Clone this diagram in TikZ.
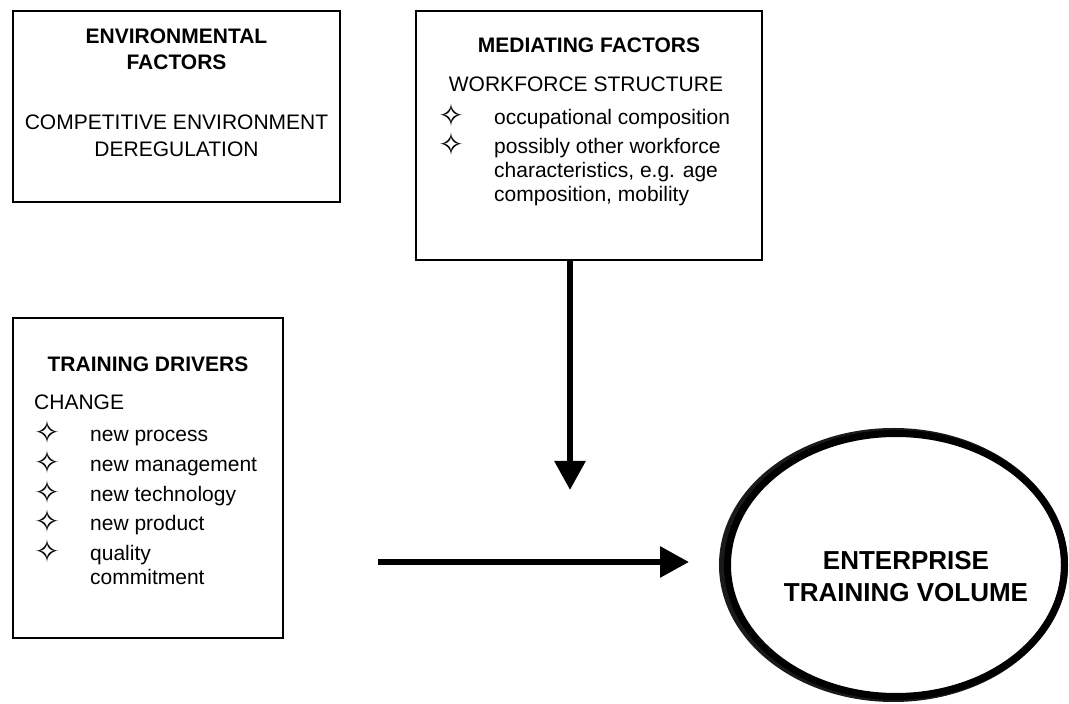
\documentclass[tikz,border=0pt]{standalone}
\usepackage{fontspec}
\setmainfont{Liberation Sans}
\newfontfamily\simbolos{DejaVu Sans}
\usepackage{tikz}
\usetikzlibrary{calc,positioning,arrows.meta,shapes.geometric}
\definecolor{fundo}{HTML}{FFFFFF}
\definecolor{tinta}{HTML}{000000}
\definecolor{sombra}{HTML}{1A1A1A}
\newcommand{\estrela}{\raisebox{-2pt}[0pt][0pt]{\simbolos\fontsize{31}{24}\selectfont\char"2727}}

\begin{document}
\begin{tikzpicture}[x=1pt,y=1pt,
    factor/.style={draw=tinta, line width=1.5pt, fill=fundo},
    hd/.style={inner sep=0pt, text=tinta, font=\fontsize{21}{24}\selectfont\bfseries},
    txt/.style={inner sep=0pt, text=tinta, font=\fontsize{21}{24}\selectfont},
    flow/.style={-{Triangle[length=29pt,width=30pt]}, line width=6pt, draw=tinta}]
  \useasboundingbox (0,0) rectangle (1069,704);
  % environmental factors
  \node[factor, minimum width=327, minimum height=191] (env) at (176.5,597.5) {};
  \node[hd, anchor=base] (envhd) at (176.5,660) {\begin{tabular}[t]{@{}c@{}}ENVIRONMENTAL\\[2pt]FACTORS\end{tabular}};
  \node[txt, anchor=base] (envtxt) at (176.5,574) {\begin{tabular}[t]{@{}c@{}}COMPETITIVE ENVIRONMENT\\[3pt]DEREGULATION\end{tabular}};
  % mediating factors
  \node[factor, minimum width=346, minimum height=249] (med) at (589,568.5) {};
  \node[hd, anchor=base] (medhd) at (589,651) {MEDIATING FACTORS};
  \node[txt, anchor=base] (medsub) at (586,612) {WORKFORCE STRUCTURE};
  \node[txt, anchor=base west] (medlist) at (438,579) {\begin{tabular}[t]{@{}p{56pt}@{}l@{}}
      \estrela & occupational composition\\[5pt]
      \estrela & possibly other workforce\\
               & characteristics, e.g. age\\
               & composition, mobility
    \end{tabular}};
  % training drivers
  \node[factor, minimum width=270, minimum height=320] (drv) at (148,226) {};
  \node[hd, anchor=base] (drvhd) at (148,332) {TRAINING DRIVERS};
  \node[txt, anchor=base west] (drvlist) at (34,294) {\begin{tabular}[t]{@{}p{56pt}@{}l@{}}
      \multicolumn{2}{@{}l@{}}{CHANGE}\\[8pt]
      \estrela & new process\\[6pt]
      \estrela & new management\\[6pt]
      \estrela & new technology\\[5pt]
      \estrela & new product\\[6pt]
      \estrela & quality\\
               & commitment
    \end{tabular}};
  % enterprise training volume
  \coordinate (etvc) at (896,139);
  \draw[sombra, line width=7pt] ([xshift=-2.5pt]etvc) ellipse [x radius=171, y radius=133.5];
  \node[ellipse, draw=tinta, line width=7pt, minimum width=337, minimum height=263] (etv) at (etvc) {};
  \node[hd, font=\fontsize{26}{32}\selectfont\bfseries, align=center] (etvtxt) at ($(etv.center)+(10,-12)$) {ENTERPRISE\\TRAINING VOLUME};
  % arrows
  \coordinate (medend) at (570,214);
  \coordinate (drvstart) at (378,142);
  \coordinate (etvend) at ($(etv.west)+(-35,3)$);
  \draw[flow] ([xshift=-19pt]med.south) -- (medend);
  \draw[flow] (drvstart) -- (etvend);
\end{tikzpicture}
\end{document}
